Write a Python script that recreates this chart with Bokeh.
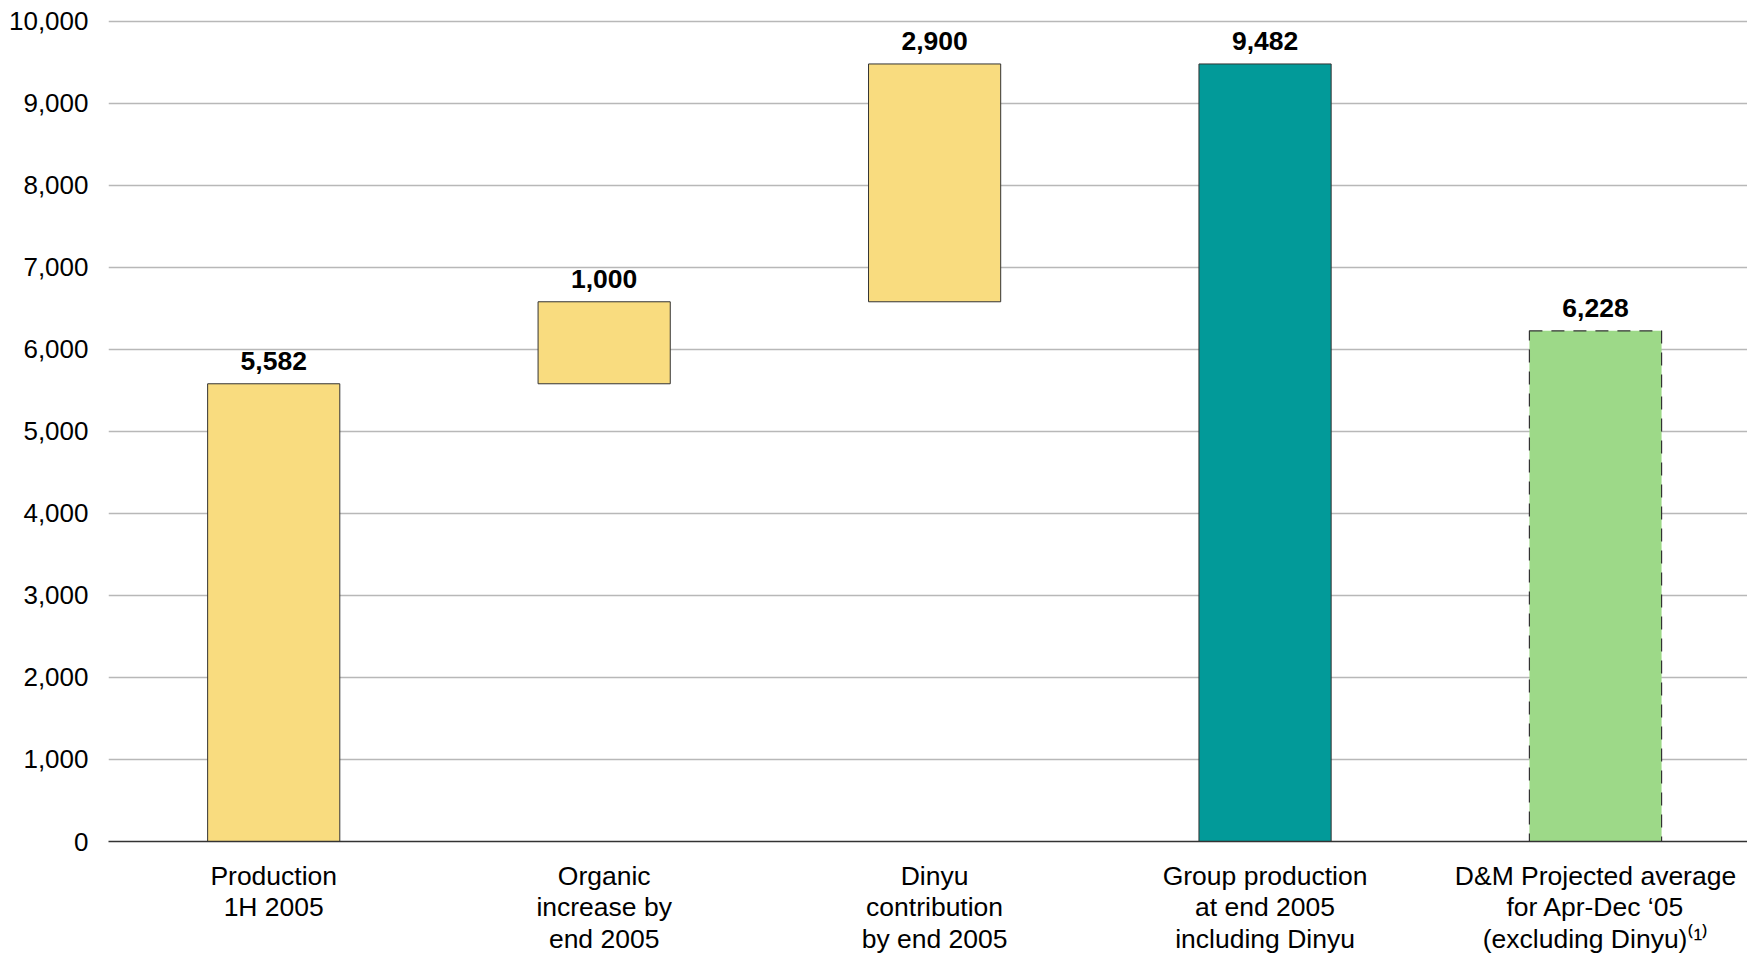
from bokeh.plotting import figure
from bokeh.models import ColumnDataSource, Range1d, FixedTicker, NumeralTickFormatter
from bokeh.core.properties import value
from bokeh.embed import file_html
from bokeh.resources import INLINE

# ---- data ----
categories = [
    "Production\n1H 2005",
    "Organic\nincrease by\nend 2005",
    "Dinyu\ncontribution\nby end 2005",
    "Group production\nat end 2005\nincluding Dinyu",
    "D&M Projected average\nfor Apr-Dec \u201805\n(excluding Dinyu)\u207d\u00b9\u207e",
]
values = [5582, 1000, 2900, 9482, 6228]
kinds = ["start", "step", "step", "total", "projection"]
colors = ["#F9DC7F", "#F9DC7F", "#F9DC7F", "#029A99", "#9DD988"]
y_ticks = list(range(0, 10001, 1000))

# waterfall bottoms/tops from the data
bottoms, tops = [], []
running = 0
for v, k in zip(values, kinds):
    if k == "step":
        bottoms.append(running)
        running += v
    else:
        bottoms.append(0)
        if k == "start":
            running = v
    tops.append(bottoms[-1] + v)

xs = list(range(len(categories)))
labels = ["{:,}".format(v) for v in values]

FONT = "Liberation Sans"

p = figure(frame_width=1639, frame_height=841, output_backend="svg", toolbar_location=None,
           x_range=Range1d(-0.5, 4.46), y_range=Range1d(0, 10256),
           min_border_left=108, min_border_right=0, min_border_top=0, min_border_bottom=0)
p.outline_line_color = None
p.background_fill_color = "white"
p.border_fill_color = "white"

solid = ColumnDataSource(dict(x=xs[:4], top=tops[:4], bottom=bottoms[:4], color=colors[:4]))
p.vbar(x="x", top="top", bottom="bottom", width=0.4, fill_color="color",
       line_color="#333333", line_width=1, source=solid)
proj = ColumnDataSource(dict(x=xs[4:], top=tops[4:], bottom=bottoms[4:], color=colors[4:]))
p.vbar(x="x", top="top", bottom="bottom", width=0.4, fill_color="color",
       line_color="#333333", line_width=1.2, line_dash="13 9", source=proj)

lab = ColumnDataSource(dict(x=xs, y=tops, text=labels))
p.text(x="x", y="y", text="text", source=lab, y_offset=-14,
       text_align="center", text_baseline="bottom",
       text_font=value(FONT), text_font_size="26.5px", text_font_style="bold",
       text_color="black")

# axes
p.xaxis.ticker = FixedTicker(ticks=xs)
p.xaxis.major_label_overrides = {i: c for i, c in enumerate(categories)}
p.xaxis.major_tick_line_color = None
p.xaxis.minor_tick_line_color = None
p.xaxis.axis_line_color = "#333333"
p.xaxis.axis_line_width = 1.5
p.xaxis.major_label_text_font = FONT
p.xaxis.major_label_text_font_size = "26.5px"
p.xaxis.major_label_text_line_height = 1.05
p.xaxis.major_label_text_color = "black"
p.xaxis.major_label_standoff = 13

p.yaxis.ticker = FixedTicker(ticks=y_ticks)
p.yaxis.formatter = NumeralTickFormatter(format="0,0")
p.yaxis.axis_line_color = None
p.yaxis.major_tick_line_color = None
p.yaxis.minor_tick_line_color = None
p.yaxis.major_label_text_font = FONT
p.yaxis.major_label_text_font_size = "26px"
p.yaxis.major_label_text_color = "black"
p.yaxis.major_label_standoff = 14

p.xgrid.grid_line_color = None
p.ygrid.grid_line_color = "#b8b8b8"
p.ygrid.grid_line_width = 1.5
p.ygrid.ticker = FixedTicker(ticks=y_ticks[1:])

open("out.html", "w").write(file_html(p, INLINE))
